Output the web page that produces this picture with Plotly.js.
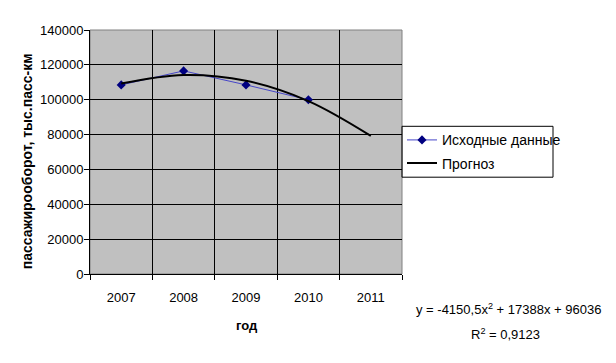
<!DOCTYPE html>
<html><head><meta charset="utf-8">
<script src="https://cdn.plot.ly/plotly-3.0.1.min.js"></script>
<style>html,body{margin:0;padding:0;background:#fff}#chart{width:616px;height:363px}</style>
</head><body><div id="chart"></div>
<script>
const years = ['2007','2008','2009','2010','2011'];
const dataYears = ['2007','2008','2009','2010'];
const sourceValues = [108500, 116540, 108510, 99960];
const forecastValues = [109274, 114210, 110846, 99180, 79214];
const yTicks = [0,20000,40000,60000,80000,100000,120000,140000];
const font = 'Liberation Sans, Arial, sans-serif';

const traces = [
  {x: dataYears, y: sourceValues, type:'scatter', mode:'lines+markers', name:'Исходные данные',
   legendgroup:'a', line:{color:'#4646C8', width:1}, marker:{symbol:'diamond', size:7, color:'#000080'}},
  {x: years, y: forecastValues, type:'scatter', mode:'lines', name:'Прогноз',
   legendgroup:'b', line:{color:'#000000', width:2, shape:'spline', smoothing:1}}
];
const layout = {
  width:616, height:363,
  margin:{l:90, r:214, t:30, b:89},
  paper_bgcolor:'#fff', plot_bgcolor:'#C0C0C0',
  font:{family:font, size:13, color:'#000'},
  showlegend:true,
  legend:{x:1.0, xanchor:'left', y:(274-124)/244.5, yanchor:'top', bgcolor:'rgba(0,0,0,0)', borderwidth:0,
          traceorder:'grouped', tracegroupgap:2, font:{family:font, size:14}},
  xaxis:{type:'category', categoryarray:years, range:[-0.5,4.5], tickson:'boundaries', ticks:'outside', ticklen:5,
         tickcolor:'#000', showgrid:true, gridcolor:'#000', gridwidth:1, showline:true, linecolor:'#000',
         ticklabelstandoff:11, zeroline:false, tickfont:{family:font, size:13}},
  yaxis:{range:[0,140000], tickvals:yTicks, ticktext:yTicks.map(String), ticks:'outside', ticklen:5, tickcolor:'#000',
         showgrid:true, gridcolor:'#000', gridwidth:1, showline:true, linecolor:'#000', zeroline:false,
         ticklabelstandoff:-2, tickfont:{family:font, size:13}},
  shapes:[
    {type:'rect', xref:'paper', yref:'paper', x0:0, x1:1, y0:0, y1:1, line:{color:'#808080', width:1}, layer:'below'},
    {type:'rect', xref:'paper', yref:'paper', x0:1.0, x1:(553-90)/312, y0:(274-177)/244.5, y1:(274-126)/244.5,
     line:{color:'#000', width:1}, fillcolor:'rgba(0,0,0,0)', layer:'above'}
  ],
  annotations:[
    {xref:'paper', yref:'paper', x:(247-90)/312, y:(274-326)/244.5, text:'<b>год</b>',
     showarrow:false, font:{family:font, size:13}, xanchor:'center', yanchor:'middle'},
    {xref:'paper', yref:'paper', x:(27-90)/312, y:(274-161)/244.5, text:'<b>пассажирооборот, тыс.пасс-км</b>',
     textangle:-90, showarrow:false, font:{family:font, size:14}, xanchor:'center', yanchor:'middle'},
    {xref:'paper', yref:'paper', x:(509-90)/312, y:(274-309)/244.5, text:'y = -4150,5x<sup>2</sup> + 17388x + 96036',
     showarrow:false, font:{family:font, size:13}, xanchor:'center', yanchor:'middle'},
    {xref:'paper', yref:'paper', x:(505-90)/312, y:(274-334)/244.5, text:'R<sup>2</sup> = 0,9123',
     showarrow:false, font:{family:font, size:13}, xanchor:'center', yanchor:'middle'}
  ]
};
Plotly.newPlot('chart', traces, layout, {displayModeBar:false, staticPlot:true});
</script></body></html>
